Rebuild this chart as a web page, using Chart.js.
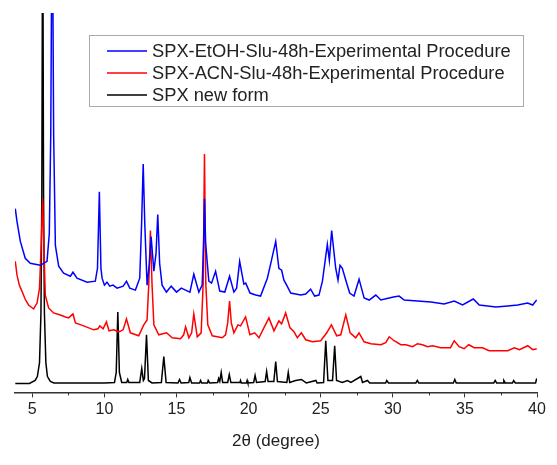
<!DOCTYPE html>
<html>
<head>
<meta charset="utf-8">
<script src="https://cdn.jsdelivr.net/npm/chart.js@4"></script>
<style>
  html, body { margin: 0; padding: 0; background: #fff; }
</style>
</head>
<body>
<canvas id="xrdChart" width="557" height="465"></canvas>
<script>
// 2-theta (degree) vs. intensity (a.u., traces already stacked)
const etohPattern = [
    [3.82,185],[3.94,172],[4.17,152],[4.51,135],[4.86,130],[5.2,129],[5.56,128],[6.02,132],
    [6.18,160],[6.28,260],[6.38,520],[6.48,260],[6.6,148],[6.83,127],[7.17,120],[7.64,117],
    [7.82,121],[8.1,115],[8.8,111],[9.37,112],[9.52,125],[9.65,202],[9.76,125],[9.84,115],
    [10.0,108],[10.18,111],[10.37,107],[10.6,108],[10.88,105],[11.3,107],[11.53,112],[11.76,105],
    [12.15,103],[12.45,115],[12.58,170],[12.69,230],[12.8,170],[12.96,108],[13.12,130],[13.24,157],
    [13.43,122],[13.58,140],[13.7,179],[13.83,130],[14.0,108],[14.3,101],[14.63,107],[15.0,101],
    [15.33,105],[15.63,103],[15.93,101],[16.2,119],[16.55,101],[16.78,108],[16.88,150],[16.94,195],
    [17.02,150],[17.24,112],[17.43,110],[17.71,122],[18.0,102],[18.35,101],[18.68,117],[18.98,101],
    [19.17,105],[19.38,132],[19.67,109],[19.8,110],[20.1,100],[20.49,98],[20.83,97],[21.3,115],
    [21.57,132],[21.88,152],[22.1,125],[22.29,123],[22.45,113],[22.64,108],[22.92,100],[23.26,99],
    [23.61,98],[23.96,99],[24.3,104],[24.58,97],[24.88,98],[25.12,112],[25.46,149],[25.6,133],
    [25.76,163],[26.04,125],[26.2,113],[26.34,128],[26.5,125],[26.74,113],[27.01,100],[27.31,97],
    [27.66,114],[28.01,95],[28.36,93],[28.82,98],[29.17,93],[29.75,95],[30.05,96],[30.44,97],
    [30.79,93],[31.71,92],[32.64,91],[33.56,89],[34.26,92],[34.84,88],[35.58,94],[36.0,88],
    [36.58,87],[37.15,86],[37.97,87],[38.66,88],[39.35,90],[39.7,88],[39.98,93]
];

const acnPattern = [
    [3.82,132],[3.94,118],[4.1,108],[4.28,102],[4.5,94],[4.74,88],[5.09,84],[5.33,90],
    [5.5,105],[5.62,150],[5.72,195],[5.8,150],[5.9,98],[6.13,85],[6.48,80],[6.94,78],
    [7.3,76],[7.52,75],[7.82,79],[7.99,70],[8.56,67],[9.26,63],[9.55,64],[9.68,67],
    [9.91,64],[10.14,71],[10.32,62],[10.65,63],[10.99,61],[11.3,63],[11.53,74],[11.8,60],
    [12.38,57],[12.73,68],[12.96,73],[13.08,110],[13.19,163],[13.3,110],[13.43,68],[13.77,58],
    [14.31,60],[14.7,55],[15.28,54],[15.5,58],[15.63,66],[15.86,55],[16.05,60],[16.2,79],
    [16.44,56],[16.71,60],[16.85,110],[16.94,240],[17.03,110],[17.17,68],[17.48,57],[17.82,56],
    [18.17,55],[18.4,58],[18.55,70],[18.68,92],[18.8,70],[18.98,60],[19.26,68],[19.44,67],
    [19.79,76],[20.09,58],[20.42,60],[20.72,55],[21.06,65],[21.41,75],[21.76,62],[22.1,72],
    [22.29,69],[22.57,80],[22.87,65],[23.15,61],[23.38,55],[23.66,60],[23.96,53],[24.42,51],
    [25.0,52],[25.42,60],[25.74,68],[26.11,57],[26.39,58],[26.74,78],[27.04,60],[27.43,55],
    [27.66,60],[28.01,51],[28.47,49],[29.17,48],[29.51,50],[29.75,56],[30.09,52],[30.56,48],
    [30.9,48],[31.37,46],[31.71,49],[32.06,48],[32.4,46],[32.76,47],[33.33,45],[34.0,45],
    [34.26,52],[34.6,46],[34.95,44],[35.26,48],[35.65,45],[36.22,45],[36.68,42],[37.38,42],
    [37.97,42],[38.43,45],[38.78,43],[39.36,47],[39.7,43],[39.98,44]
];

const newFormPattern = [
    [3.82,9],[4.8,9],[5.2,12],[5.35,16],[5.5,30],[5.6,80],[5.66,200],[5.72,520],
    [5.78,200],[5.84,80],[5.94,30],[6.05,16],[6.25,11],[6.5,9.5],[7,9.5],[10,9.5],
    [10.7,10],[10.82,20],[10.93,81],[11.04,20],[11.2,10],[11.55,10],[11.62,13],[11.7,10],
    [12.45,10],[12.59,24],[12.7,12],[12.78,14],[12.92,58],[13.05,12],[13.3,9.5],[13.95,10],
    [14.12,36],[14.28,10],[15.1,9.5],[15.21,13],[15.32,9.5],[15.85,10],[15.93,15],[16.05,9.5],
    [16.6,9.5],[16.67,12],[16.75,9.5],[17.15,9.5],[17.2,12],[17.3,9.5],[17.85,10],[17.92,14],
    [18.0,11],[18.1,20],[18.2,10],[18.55,10],[18.66,18],[18.77,10],[19.4,10],[19.44,12],
    [19.5,9.5],[19.85,9.5],[19.9,12],[19.95,9.5],[20.35,10],[20.45,17],[20.55,10],[21.15,11],
    [21.25,21],[21.35,11],[21.75,11],[21.88,31],[22,11],[22.65,10],[22.75,20],[22.85,10],
    [23.26,12],[23.66,13],[24.0,9.5],[24.67,12],[24.75,9.5],[25.2,10],[25.35,52],[25.5,12],
    [25.82,12],[25.97,47],[26.1,12],[26.5,10],[26.85,12],[27.1,10],[27.78,16],[27.9,10],
    [28.24,12],[28.4,9.5],[29.5,9.5],[29.58,12],[29.7,9.5],[31.6,9.5],[31.7,12],[31.8,9.5],
    [34.2,9.5],[34.3,13],[34.4,9.5],[37.0,9.5],[37.1,12],[37.2,9.5],[37.65,9.5],[37.7,12],
    [37.8,9.5],[38.3,9.5],[38.38,12],[38.5,9.5],[39.9,9.5],[39.98,14]
];

const seriesLabels = [
    'SPX-EtOH-Slu-48h-Experimental Procedure',
    'SPX-ACN-Slu-48h-Experimental Procedure',
    'SPX new form'
];
const majorTicks = [5, 10, 15, 20, 25, 30, 35, 40];
const minorTicks = [7.5, 12.5, 17.5, 22.5, 27.5, 32.5, 37.5];

const toPoints = (arr) => arr.map(p => ({ x: p[0], y: p[1] }));

// legend box inside the plot + short minor ticks
const overlay = {
    id: 'overlay',
    afterDraw(chart) {
        const c = chart.ctx;
        const xs = chart.scales.x;
        const bottom = chart.chartArea.bottom;
        c.save();
        c.strokeStyle = '#333';
        c.lineWidth = 1;
        minorTicks.forEach(v => {
            const px = Math.round(xs.getPixelForValue(v)) + 0.5;
            c.beginPath();
            c.moveTo(px, bottom);
            c.lineTo(px, bottom + 3);
            c.stroke();
        });

        c.strokeStyle = '#aaaaaa';
        c.lineWidth = 1;
        c.strokeRect(89.5, 35.5, 434, 71);
        c.font = '18.3px "Liberation Sans", Arial, sans-serif';
        c.textBaseline = 'middle';
        c.fillStyle = '#222';
        chart.data.datasets.forEach((ds, i) => {
            const y = 51 + i * 22;
            c.strokeStyle = ds.borderColor;
            c.lineWidth = 1.5;
            c.beginPath();
            c.moveTo(107, y);
            c.lineTo(147, y);
            c.stroke();
            c.fillText(ds.label, 152, y + 1);
        });
        c.restore();
    }
};

new Chart(document.getElementById('xrdChart'), {
    type: 'line',
    data: {
        datasets: [
            {
                label: seriesLabels[0],
                data: toPoints(etohPattern),
                borderColor: '#0000ff',
                borderWidth: 1.5
            },
            {
                label: seriesLabels[1],
                data: toPoints(acnPattern),
                borderColor: '#ff0000',
                borderWidth: 1.5
            },
            {
                label: seriesLabels[2],
                data: toPoints(newFormPattern),
                borderColor: '#000000',
                borderWidth: 1.5
            }
        ]
    },
    options: {
        responsive: false,
        animation: false,
        elements: {
            point: { radius: 0 },
            line: { tension: 0 }
        },
        layout: {
            padding: { left: 15, right: 20, top: 13, bottom: 13 }
        },
        plugins: {
            legend: { display: false },
            tooltip: { enabled: false }
        },
        scales: {
            x: {
                type: 'linear',
                min: 3.8,
                max: 40,
                afterBuildTicks: (axis) => {
                    axis.ticks = majorTicks.map(v => ({ value: v }));
                },
                grid: {
                    drawOnChartArea: false,
                    drawTicks: true,
                    tickLength: 5,
                    tickColor: '#333'
                },
                border: { display: true, color: '#333', width: 1.5 },
                ticks: {
                    autoSkip: false,
                    maxRotation: 0,
                    padding: 3,
                    color: '#222',
                    font: { family: '"Liberation Sans", Arial, sans-serif', size: 16 }
                },
                title: {
                    display: true,
                    text: '2θ (degree)',
                    color: '#222',
                    padding: { top: 9, bottom: 0 },
                    font: { family: '"Liberation Sans", Arial, sans-serif', size: 17 }
                }
            },
            y: {
                display: false,
                min: 0,
                max: 382
            }
        }
    },
    plugins: [overlay]
});
</script>
</body>
</html>
